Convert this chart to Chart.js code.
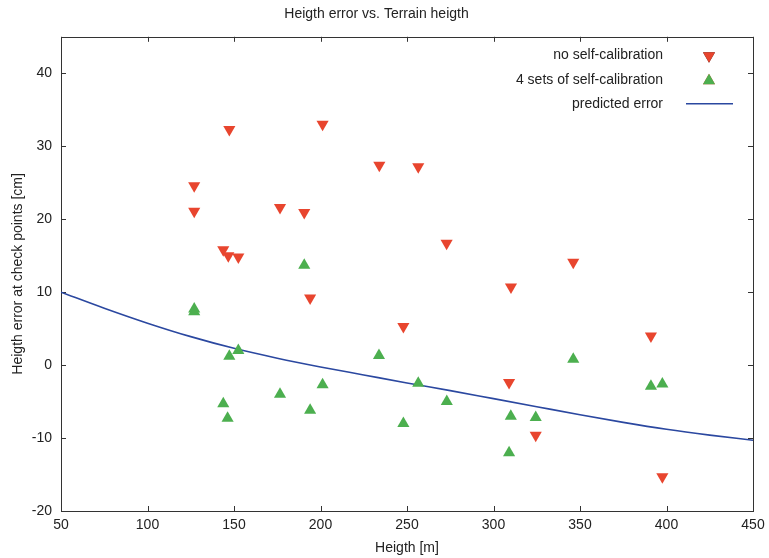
<!DOCTYPE html>
<html>
<head>
<meta charset="utf-8">
<title>Heigth error vs. Terrain heigth</title>
<script src="https://cdn.jsdelivr.net/npm/chart.js@4.4.1/dist/chart.umd.min.js"></script>
<style>
    html, body { margin: 0; padding: 0; background: #fff; }
    #wrap { width: 769px; height: 558px; }
</style>
</head>
<body>
<div id="wrap"><canvas id="errChart"></canvas></div>
<script>
// check point heights [m] and errors [cm]
const noCalibHeight = [127, 127, 143.8, 146.7, 147.3, 152.5, 176.6, 190.6, 194, 201.2, 234, 247.9, 256.5, 272.9, 309, 310.1, 324.4, 346.1, 391, 397.6];
const noCalibError  = [24.6, 21.1, 15.8, 15.0, 32.3, 14.8, 21.6, 20.9, 9.2, 33.0, 27.4, 5.3, 27.2, 16.7, -2.4, 10.7, -9.6, 14.1, 4.0, -15.3];

const selfCalibHeight = [127, 127, 143.8, 146.3, 147.3, 152.5, 176.6, 190.6, 194, 201.2, 233.8, 247.9, 256.5, 273, 309, 310, 324.4, 346.1, 391, 397.6];
const selfCalibError  = [7.3, 7.7, -5.3, -7.3, 1.2, 2.0, -4.0, 13.7, -6.2, -2.7, 1.3, -8.0, -2.5, -5.0, -12.0, -7.0, -7.2, 0.8, -2.9, -2.6];

// predicted error curve
const predHeight = [50, 75, 100, 125, 150, 175, 200, 225, 250, 275, 300, 325, 350, 375, 400, 425, 450];
const predError  = [10.0, 7.8, 5.75, 3.9, 2.3, 0.95, -0.25, -1.35, -2.45, -3.5, -4.6, -5.7, -6.8, -7.85, -8.8, -9.6, -10.3];

const xTicks = [50, 100, 150, 200, 250, 300, 350, 400, 450];
const yTicks = [-20, -10, 0, 10, 20, 30, 40];

const seriesNames = ['no self-calibration', '4 sets of self-calibration', 'predicted error'];

const RED = '#e8452e';
const GREEN = '#4caf4f';
const BLUE = '#2b48a0';
const FONT = '"Liberation Sans", Arial, sans-serif';

function toPoints(xs, ys) {
    return xs.map((v, i) => ({ x: v, y: ys[i] }));
}

/**
 * Box frame with inward ticks on all four sides
 */
const framePlugin = {
    id: 'frame',
    beforeDatasetsDraw(chart) {
        const { ctx, chartArea: a, scales: { x, y } } = chart;
        const len = 5;
        ctx.save();
        ctx.strokeStyle = '#333';
        ctx.lineWidth = 1;
        ctx.strokeRect(Math.round(a.left) + 0.5, Math.round(a.top) + 0.5,
            Math.round(a.right - a.left), Math.round(a.bottom - a.top));
        ctx.beginPath();
        x.ticks.forEach(t => {
            const px = Math.round(x.getPixelForValue(t.value)) + 0.5;
            ctx.moveTo(px, a.bottom); ctx.lineTo(px, a.bottom - len);
            ctx.moveTo(px, a.top); ctx.lineTo(px, a.top + len);
        });
        y.ticks.forEach(t => {
            const py = Math.round(y.getPixelForValue(t.value)) + 0.5;
            ctx.moveTo(a.left, py); ctx.lineTo(a.left + len, py);
            ctx.moveTo(a.right, py); ctx.lineTo(a.right - len, py);
        });
        ctx.stroke();
        ctx.restore();
    }
};

/**
 * Legend inside the plot, upper right: text right aligned, symbol after it
 */
const keyPlugin = {
    id: 'key',
    afterDraw(chart) {
        const { ctx, chartArea: a } = chart;
        const textRight = a.right - 90;
        const symX = a.right - 44;
        const rows = [a.top + 18, a.top + 43, a.top + 67];
        ctx.save();
        ctx.font = '14px ' + FONT;
        ctx.fillStyle = '#222';
        ctx.textAlign = 'right';
        ctx.textBaseline = 'middle';
        seriesNames.forEach((name, i) => ctx.fillText(name, textRight, rows[i]));

        ctx.beginPath();
        Chart.helpers.drawPoint(ctx, { pointStyle: 'triangle', rotation: 180, radius: 7, borderWidth: 0 }, symX, rows[0] + 1);
        ctx.fillStyle = RED;
        ctx.fill();
        ctx.beginPath();
        Chart.helpers.drawPoint(ctx, { pointStyle: 'triangle', rotation: 0, radius: 7, borderWidth: 0 }, symX, rows[1] + 1);
        ctx.fillStyle = GREEN;
        ctx.fill();

        ctx.beginPath();
        ctx.strokeStyle = BLUE;
        ctx.lineWidth = 1.6;
        ctx.moveTo(symX - 23, rows[2]);
        ctx.lineTo(symX + 24, rows[2]);
        ctx.stroke();
        ctx.restore();
    }
};

new Chart(document.getElementById('errChart'), {
    type: 'scatter',
    data: {
        datasets: [
            {
                label: seriesNames[0],
                data: toPoints(noCalibHeight, noCalibError),
                pointStyle: 'triangle',
                rotation: 180,
                pointRadius: 7,
                pointBorderWidth: 0,
                backgroundColor: RED,
                borderColor: RED
            },
            {
                label: seriesNames[1],
                data: toPoints(selfCalibHeight, selfCalibError),
                pointStyle: 'triangle',
                pointRadius: 7,
                pointBorderWidth: 0,
                backgroundColor: GREEN,
                borderColor: GREEN
            },
            {
                label: seriesNames[2],
                data: toPoints(predHeight, predError),
                showLine: true,
                pointRadius: 0,
                borderColor: BLUE,
                borderWidth: 1.6,
                cubicInterpolationMode: 'monotone',
                fill: false
            }
        ]
    },
    options: {
        responsive: true,
        maintainAspectRatio: false,
        animation: false,
        layout: { padding: { left: 0, right: 16, top: 0, bottom: 0 } },
        plugins: {
            legend: { display: false },
            tooltip: { enabled: false },
            title: {
                display: true,
                text: 'Heigth error vs. Terrain heigth',
                color: '#222',
                font: { family: FONT, size: 14, weight: 'normal' },
                padding: { top: 6, bottom: 14 }
            }
        },
        scales: {
            x: {
                type: 'linear',
                min: 50,
                max: 450,
                afterBuildTicks: axis => { axis.ticks = xTicks.map(v => ({ value: v })); },
                afterFit: axis => {
                    axis.height = 47;
                    axis.paddingLeft = 0;
                    axis.paddingRight = 0;
                },
                grid: { display: false, drawTicks: false },
                border: { display: false },
                ticks: { color: '#222', padding: 6, font: { family: FONT, size: 14 } },
                title: {
                    display: true,
                    text: 'Heigth [m]',
                    color: '#222',
                    font: { family: FONT, size: 14 },
                    padding: { top: 0, bottom: 1 }
                }
            },
            y: {
                type: 'linear',
                min: -20,
                max: 45,
                afterBuildTicks: axis => { axis.ticks = yTicks.map(v => ({ value: v })); },
                afterFit: axis => { axis.width = 61; },
                grid: { display: false, drawTicks: false },
                border: { display: false },
                ticks: { color: '#222', padding: 9, font: { family: FONT, size: 14 } },
                title: {
                    display: true,
                    text: 'Heigth error at check points [cm]',
                    color: '#222',
                    font: { family: FONT, size: 14 },
                    padding: { top: 10, bottom: 0 }
                }
            }
        }
    },
    plugins: [framePlugin, keyPlugin]
});
</script>
</body>
</html>
